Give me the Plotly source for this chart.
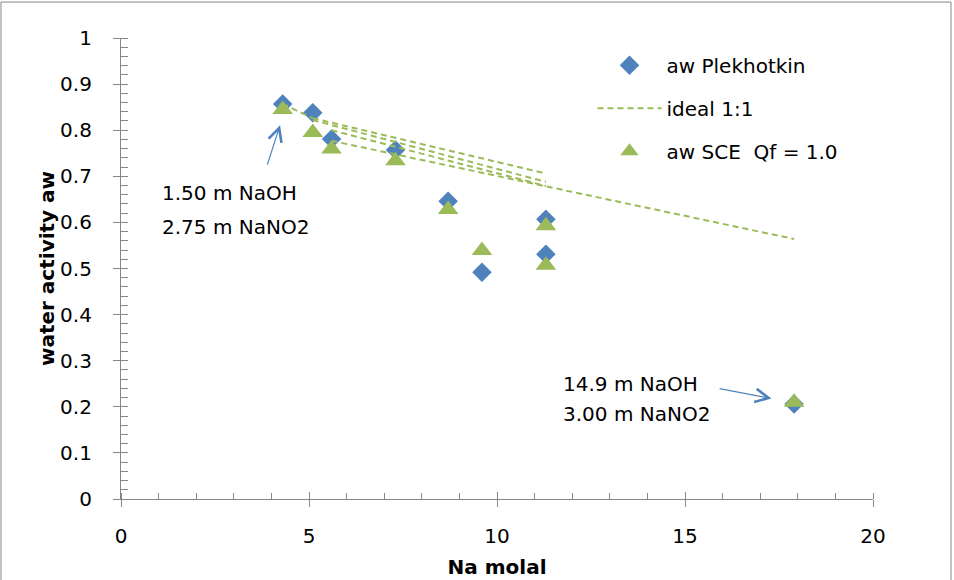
import plotly.graph_objects as go

# ---------------- data ----------------
na_molal = [4.3, 5.1, 5.6, 7.3, 8.7, 9.6, 11.3, 11.3, 17.9]
aw_plekhotkin = [0.857, 0.838, 0.781, 0.757, 0.646, 0.492, 0.607, 0.531, 0.206]
aw_sce = [0.845, 0.795, 0.759, 0.734, 0.628, 0.539, 0.593, 0.507, 0.210]

# ideal 1:1 segments (start -> end)
ideal_start_x = [4.3, 5.1, 5.1, 5.6, 5.6]
ideal_start_y = [0.857, 0.826, 0.822, 0.800, 0.777]
ideal_end_x = [5.1, 11.3, 11.3, 11.3, 17.9]
ideal_end_y = [0.826, 0.706, 0.688, 0.679, 0.564]

x_ticks = [0, 5, 10, 15, 20]
y_ticks = [0, 0.1, 0.2, 0.3, 0.4, 0.5, 0.6, 0.7, 0.8, 0.9, 1]
y_tick_labels = ["0", "0.1", "0.2", "0.3", "0.4", "0.5", "0.6", "0.7", "0.8", "0.9", "1"]

ann_low_label = ["1.50 m NaOH", "2.75 m NaNO2"]
ann_high_label = ["14.9 m NaOH", "3.00 m NaNO2"]

# ---------------- build ----------------
FONT = "DejaVu Sans, sans-serif"
AXIS_GRAY = "#868686"
BLUE = "#4F81BD"
GREEN = "#9BBB59"
FS = 20

ideal_x, ideal_y = [], []
for x0, y0, x1, y1 in zip(ideal_start_x, ideal_start_y, ideal_end_x, ideal_end_y):
    ideal_x += [x0, x1, None]
    ideal_y += [y0, y1, None]

fig = go.Figure()
fig.add_trace(go.Scatter(
    x=na_molal, y=aw_plekhotkin, mode="markers", name="aw Plekhotkin",
    legendgroup="a",
    marker=dict(symbol="diamond", size=15, color=BLUE, line=dict(width=0)),
))
fig.add_trace(go.Scatter(
    x=ideal_x, y=ideal_y, mode="lines", name="ideal 1:1", legendgroup="b",
    connectgaps=False,
    line=dict(color=GREEN, width=2, dash="6px,4px"),
))
fig.add_trace(go.Scatter(
    x=na_molal, y=aw_sce, mode="markers", name="aw SCE  Qf = 1.0",
    legendgroup="c",
    marker=dict(symbol="triangle-up", size=18, color=GREEN, line=dict(width=0)),
))
# helper trace for overlay axes (inner halves of crossing major ticks)
fig.add_trace(go.Scatter(x=[], y=[], xaxis="x2", yaxis="y2", showlegend=False,
                         hoverinfo="skip"))

annotations = []
for i, t in enumerate(ann_low_label):
    annotations.append(dict(x=1.04, y=[0.664, 0.590][i], xref="x", yref="y", text=t,
                            showarrow=False, xanchor="left", yanchor="middle",
                            font=dict(family=FONT, size=FS, color="black")))
for i, t in enumerate(ann_high_label):
    annotations.append(dict(x=11.7, y=[0.249, 0.184][i], xref="x", yref="y", text=t,
                            showarrow=False, xanchor="left", yanchor="middle",
                            font=dict(family=FONT, size=FS, color="black")))
annotations.append(dict(x=4.23, y=0.811, ax=3.88, ay=0.722, xref="x", yref="y",
                        axref="x", ayref="y", text="", showarrow=True,
                        arrowhead=5, arrowsize=2.2, arrowwidth=1.2, arrowcolor=BLUE))
annotations.append(dict(x=17.30, y=0.218, ax=15.88, ay=0.240, xref="x", yref="y",
                        axref="x", ayref="y", text="", showarrow=True,
                        arrowhead=5, arrowsize=2.2, arrowwidth=1.2, arrowcolor=BLUE))

fig.update_layout(
    width=954, height=580,
    margin=dict(l=121, r=81, t=38, b=81),
    paper_bgcolor="white", plot_bgcolor="white",
    font=dict(family=FONT, size=FS, color="black"),
    showlegend=True,
    legend=dict(x=0.627, y=0.983, xanchor="left", yanchor="top",
                bgcolor="rgba(0,0,0,0)", font=dict(family=FONT, size=FS),
                traceorder="grouped", tracegroupgap=14, itemwidth=64),
    xaxis=dict(
        range=[0, 20], tickvals=x_ticks, ticktext=[str(v) for v in x_ticks],
        ticks="outside", ticklen=7, tickwidth=1, tickcolor=AXIS_GRAY,
        showline=True, linecolor=AXIS_GRAY, linewidth=1.2,
        showgrid=False, zeroline=False, ticklabelstandoff=12, automargin=False,
        minor=dict(ticks="inside", dtick=1, ticklen=6, tickwidth=1, tickcolor=AXIS_GRAY,
                   showgrid=False),
        tickfont=dict(family=FONT, size=FS),
        title=dict(text="<b>Na molal</b>", font=dict(family=FONT, size=FS), standoff=12),
    ),
    yaxis=dict(
        range=[0, 1], tickvals=y_ticks, ticktext=y_tick_labels,
        ticks="outside", ticklen=7, tickwidth=1, tickcolor=AXIS_GRAY,
        showline=True, linecolor=AXIS_GRAY, linewidth=1.2,
        showgrid=False, zeroline=False, ticklabelstandoff=17, automargin=False,
        minor=dict(ticks="inside", dtick=0.02, ticklen=7, tickwidth=1, tickcolor=AXIS_GRAY,
                   showgrid=False),
        tickfont=dict(family=FONT, size=FS),
        title=dict(text="<b>water activity aw</b>", font=dict(family=FONT, size=FS),
                   standoff=0),
    ),
    xaxis2=dict(range=[0, 20], overlaying="x", anchor="y2", side="bottom",
                tickvals=x_ticks, ticks="inside", ticklen=7, tickwidth=1,
                tickcolor=AXIS_GRAY, showticklabels=False, showline=False,
                showgrid=False, zeroline=False),
    yaxis2=dict(range=[0, 1], overlaying="y", anchor="x2", side="left",
                tickvals=y_ticks, ticks="inside", ticklen=7, tickwidth=1,
                tickcolor=AXIS_GRAY, showticklabels=False, showline=False,
                showgrid=False, zeroline=False),
    annotations=annotations,
    shapes=[dict(type="rect", xref="paper", yref="paper",
                 x0=-0.1596, x1=1.1037, y0=-0.19, y1=1.078,
                 line=dict(color=AXIS_GRAY, width=1), fillcolor="rgba(0,0,0,0)",
                 layer="below")],
)

fig.write_html("out.html", config={"displayModeBar": False},
               post_script="document.body.style.margin='0';document.body.style.overflow='hidden';")
